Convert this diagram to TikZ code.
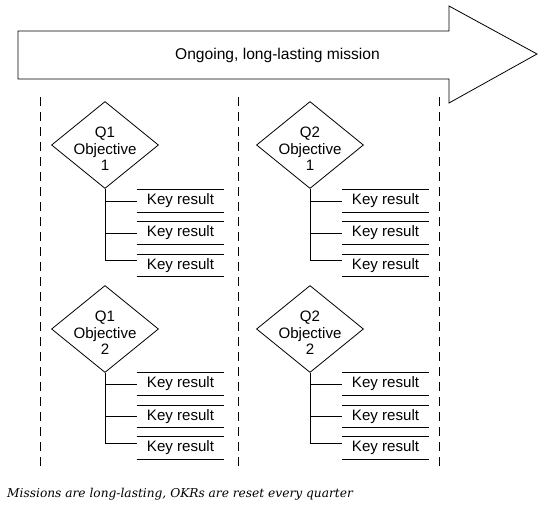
\documentclass[tikz,border=0pt]{standalone}
\usepackage{fontspec}
\setmainfont{Liberation Sans}
\newfontfamily\capfont{DejaVu Serif}
\usetikzlibrary{shapes.geometric}
\tikzset{
  line/.style={draw=black, line width=0.8pt},
  objd/.style={diamond, draw, line width=0.8pt, inner sep=0pt, minimum width=107pt, minimum height=87pt, aspect=1.23},
  objtext/.style={align=center, font=\fontsize{15.1}{16.5}\selectfont, inner sep=0pt},
  krbox/.style={minimum width=87pt, minimum height=22pt, inner sep=0pt, font=\fontsize{15.1}{16}\selectfont,
    append after command={(\tikzlastnode.north west) edge[line] (\tikzlastnode.north east)
                          (\tikzlastnode.south west) edge[line] (\tikzlastnode.south east)}},
  branch/.style={draw=black, line width=1pt},
  sep/.style={draw=black, line width=0.8pt, dash pattern=on 9pt off 6pt},
}
\begin{document}
\begin{tikzpicture}[x=1pt, y=-1pt]
\useasboundingbox (0,0) rectangle (550,509);
% mission arrow
\draw[line] (18,31) -- (449,31) -- (449,6) -- (537,54) -- (449,103) -- (449,79) -- (18,79) -- cycle;
\node[font=\fontsize{15.6}{17}\selectfont] (mission) at (277.5,55) {Ongoing, long-lasting mission};
% separators
\coordinate (s1t) at (40,97);  \coordinate (s1b) at (40,471);
\coordinate (s2t) at (238,97); \coordinate (s2b) at (238,471);
\coordinate (s3t) at (439,97); \coordinate (s3b) at (439,471);
\draw[sep] (s1t) -- (s1b);
\draw[sep] (s2t) -- (s2b);
\draw[sep] (s3t) -- (s3b);
% objectives
\node[objd] (d11) at (105,145) {};
\node[objtext] at ([yshift=-4pt]d11.center) {Q1\\Objective\\1};
\node[objd] (d12) at (105,329) {};
\node[objtext] at ([yshift=-4pt]d12.center) {Q1\\Objective\\2};
\node[objd] (d21) at (310,145) {};
\node[objtext] at ([yshift=-4pt]d21.center) {Q2\\Objective\\1};
\node[objd] (d22) at (310,329) {};
\node[objtext] at ([yshift=-4pt]d22.center) {Q2\\Objective\\2};
% key results
\foreach \c/\kx in {1/180.5, 2/385.5}{
  \foreach \r/\ya/\yb/\yc in {1/201/233/265.5, 2/384/416.5/448}{
    \node[krbox] (k\c\r a) at (\kx,\ya) {Key result};
    \node[krbox] (k\c\r b) at (\kx,\yb) {Key result};
    \node[krbox] (k\c\r c) at (\kx,\yc) {Key result};
    \coordinate (e\c\r) at ([yshift=5pt]k\c\r c.west);
    \draw[branch] (d\c\r.south) -- (d\c\r.south |- e\c\r) -- (e\c\r);
    \draw[branch] (d\c\r.south |- k\c\r a.west) -- (k\c\r a.west);
    \draw[branch] (d\c\r.south |- k\c\r b.west) -- (k\c\r b.west);
  }
}
% caption
\node[anchor=base west, inner sep=0pt, font=\capfont\itshape\fontsize{12.2}{14}\selectfont] (cap) at (7,497) {Missions are long-lasting, OKRs are reset every quarter};
\end{tikzpicture}
\end{document}
